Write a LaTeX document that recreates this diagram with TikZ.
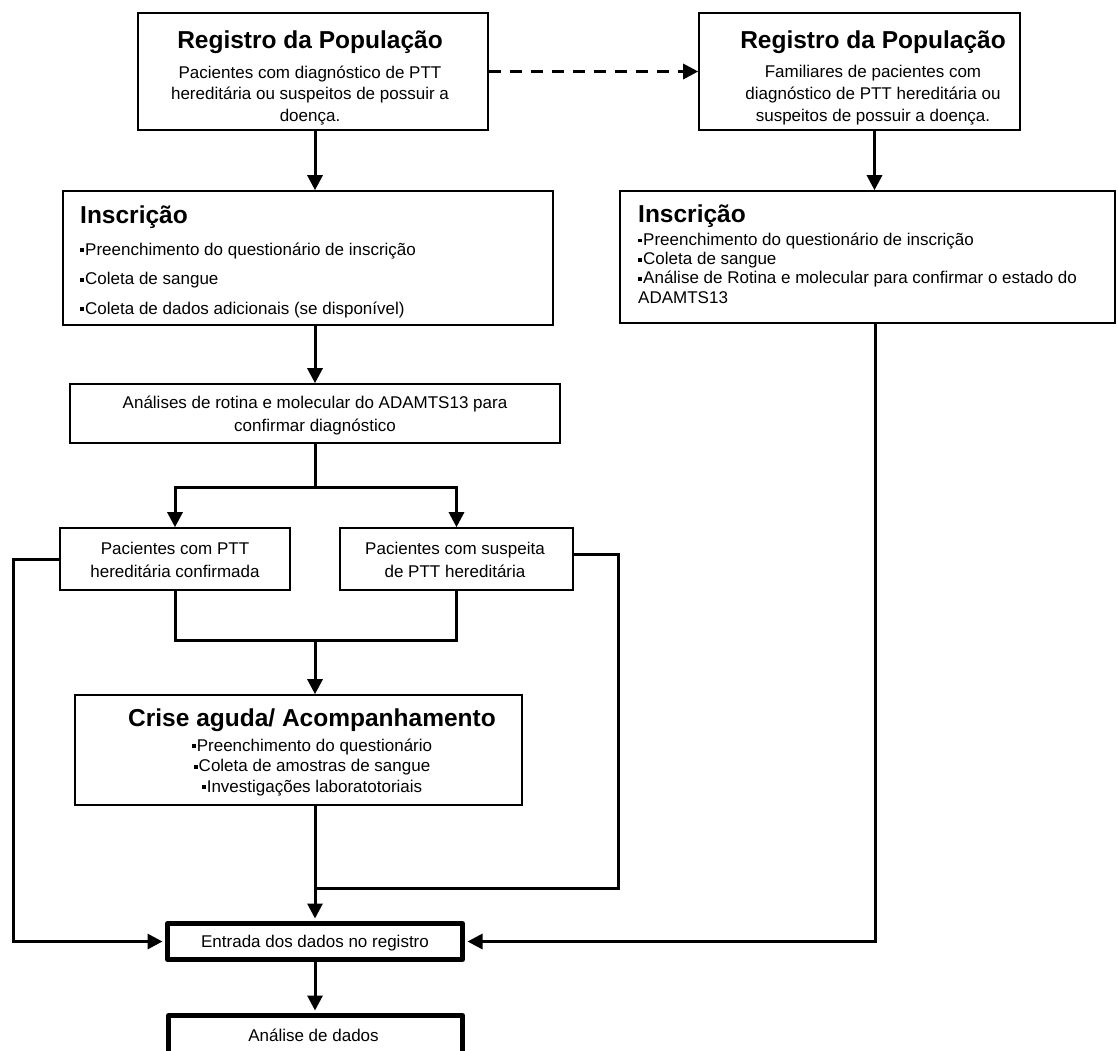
\documentclass[tikz,border=0pt]{standalone}
\usepackage{fontspec}
\setmainfont{Liberation Sans}
\usetikzlibrary{arrows.meta,calc}
\newcommand{\ttl}{\fontsize{24.5}{28}\selectfont\bfseries}
\newcommand{\bul}{\raisebox{2.8pt}{\rule{3.8pt}{3.8pt}}\kern1.2pt}
\begin{document}
\begin{tikzpicture}[x=1pt,y=-1pt,
  box/.style={draw, line width=1.6pt, inner sep=0pt},
  thickbox/.style={draw, line width=5pt, line join=round, inner sep=0pt},
  txt/.style={inner sep=0pt, align=center, font=\fontsize{17}{21.5}\selectfont},
  conn/.style={line width=3pt},
  arr/.style={conn, -{Triangle[width=15pt,length=15pt]}},
]
\useasboundingbox (0,0) rectangle (1118,1050);
\clip (0,0) rectangle (1118,1050);
\fill[white] (0,0) rectangle (1118,1050);

% boxes
\node[box, minimum width=350pt, minimum height=117pt] (A) at (313,71.5) {};
\node[box, minimum width=321pt, minimum height=117pt] (B) at (859.5,71.5) {};
\node[box, minimum width=490pt, minimum height=134pt] (C) at (308,258) {};
\node[box, minimum width=495pt, minimum height=132pt] (D) at (867.5,257) {};
\node[box, minimum width=490pt, minimum height=59pt] (E) at (315,413.5) {};
\node[box, minimum width=230pt, minimum height=62pt] (F) at (175,559) {};
\node[box, minimum width=233pt, minimum height=62pt] (G) at (456.5,559) {};
\node[box, minimum width=447pt, minimum height=110pt] (H) at (298.5,750) {};
\node[thickbox, minimum width=295pt, minimum height=36pt] (I) at (315,941.5) {};
\node[thickbox, minimum width=294pt, minimum height=60pt] (J) at (315.5,1045.5) {};

% texts (base anchor = baseline of the last line)
\node[txt, anchor=base] (At) at (310,121) {{\ttl Registro da População}\\[7.7pt]
  Pacientes com diagnóstico de PTT\\ hereditária ou suspeitos de possuir a\\ doença.};
\node[txt, anchor=base, font=\fontsize{17}{22}\selectfont] (Bt) at (873,121) {{\ttl Registro da População}\\[6.2pt]
  Familiares de pacientes com\\ diagnóstico de PTT hereditária ou\\ suspeitos de possuir a doença.};
\node[txt, anchor=base west, align=left, font=\fontsize{17}{29.5}\selectfont] (Ct) at (80,314) {{\ttl Inscrição}\\[1.7pt]
  \bul Preenchimento do questionário de inscrição\\
  \bul Coleta de sangue\\
  \bul Coleta de dados adicionais (se disponível)};
\node[txt, anchor=base west, align=left, font=\fontsize{17}{19.3}\selectfont] (Dt) at (638,303) {{\ttl Inscrição}\\[3pt]
  \bul Preenchimento do questionário de inscrição\\
  \bul Coleta de sangue\\
  \bul Análise de Rotina e molecular para confirmar o estado do\\
  ADAMTS13};
\node[txt, anchor=base, font=\fontsize{17}{23}\selectfont] (Et) at (315,431) {Análises de rotina e molecular do ADAMTS13 para\\ confirmar diagnóstico};
\node[txt, anchor=base, font=\fontsize{17}{23}\selectfont] (Ft) at (175,577) {Pacientes com PTT\\ hereditária confirmada};
\node[txt, anchor=base, font=\fontsize{17}{23}\selectfont] (Gt) at (455,577) {Pacientes com suspeita\\ de PTT hereditária};
\node[txt, anchor=base, font=\fontsize{17}{20.5}\selectfont] (Ht) at (312,792) {{\ttl Crise aguda/ Acompanhamento}\\[3.7pt]
  \bul Preenchimento do questionário\\
  \bul Coleta de amostras de sangue\\
  \bul Investigações laboratotoriais};
\node[txt, anchor=base] (It) at (315,947) {Entrada dos dados no registro};
\node[txt, anchor=base] (Jt) at (313.5,1041) {Análise de dados};

% connectors
\draw[arr] (A.south -| 315,0) -- (C.north -| 315,0);
\draw[arr, dash pattern=on 12pt off 9pt] (A.east) -- (B.west);
\draw[arr] ([xshift=15pt]B.south) -- ([xshift=15pt]B.south |- D.north);
\draw[arr] (C.south -| E.north) -- (E.north);
\coordinate (split) at (315,487);
\draw[conn] (E.south) -- (split);
\draw[arr] (split) -| (F.north);
\draw[arr] (split) -| (G.north);
\coordinate (join) at (315,640);
\draw[conn] (F.south) |- (join) -| (G.south);
\draw[arr] (join) -- (join |- H.north);
\coordinate (fl) at (13,941.5);
\draw[arr, shorten >=2.5pt] (F.west) -| (fl) -- (I.west);
\coordinate (gr) at (618,888);
\draw[conn] ([yshift=5pt]G.east) -| (gr) -- (gr -| I.north);
\draw[arr, shorten >=2.5pt] (H.south -| I.north) -- (I.north);
\draw[arr, shorten >=2.5pt] ([xshift=7.5pt]D.south) |- (I.east);
\draw[arr, shorten >=2.5pt] (I.south) -- (I.south |- J.north);
\end{tikzpicture}
\end{document}
